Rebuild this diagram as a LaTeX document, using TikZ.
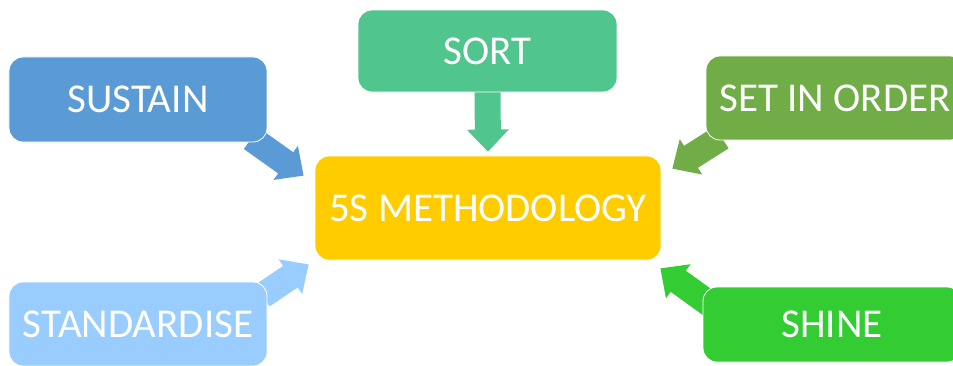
\documentclass[tikz,border=0pt]{standalone}
\usepackage{fontspec}
\setmainfont{Carlito}
\usetikzlibrary{calc,backgrounds}
\definecolor{csustain}{HTML}{5B9BD5}
\definecolor{csort}{HTML}{50C58D}
\definecolor{cmain}{HTML}{FFCC00}
\definecolor{corder}{HTML}{70AD47}
\definecolor{cstd}{HTML}{99CCFF}
\definecolor{cshine}{HTML}{33CC33}
% block arrow: #1 colour, #2 start, #3 tip
\newcommand{\blockarr}[3]{%
  \coordinate (ba-A) at #2;
  \coordinate (ba-B) at #3;
  \coordinate (ba-H) at ($(ba-B)!22bp!(ba-A)$);
  \fill[#1] ($(ba-A)!13bp!90:(ba-B)$) -- ($(ba-H)!13bp!90:(ba-B)$) --
    ($(ba-H)!21bp!90:(ba-B)$) -- (ba-B) -- ($(ba-H)!21bp!-90:(ba-B)$) --
    ($(ba-H)!13bp!-90:(ba-B)$) -- ($(ba-A)!13bp!-90:(ba-B)$) -- cycle;
}
\begin{document}
\begin{tikzpicture}[x=1bp,y=1bp,
  box/.style={rounded corners=14bp, minimum width=258bp, minimum height=84bp,
    inner sep=0pt, text=white, draw=white, line width=0.8bp,
    font=\fontsize{41bp}{49bp}\selectfont}]
  \useasboundingbox (0,0) rectangle (953,365);
  \clip (0,0) rectangle (953,365);
  \node[box, fill=cmain, minimum width=346bp, minimum height=104bp] (main) at (488,157) {5S METHODOLOGY};
  \node[box, fill=csustain, minimum height=85bp] (sustain) at (138,265.5) {SUSTAIN};
  \node[box, fill=csort, minimum width=259bp, minimum height=82bp] (sort) at (487.5,314) {SORT};
  \node[box, fill=corder] (order) at (835,267) {SET IN ORDER};
  \node[box, fill=cstd] (std) at (138,41) {STANDARDISE};
  \node[box, fill=cshine, minimum height=75bp] (shine) at (832,40.5) {SHINE};
  \begin{scope}[on background layer]
    \blockarr{csustain}{($(sustain.south east)+(-16,4)$)}{($(main.north west)+(-11,-20)$)}
    \blockarr{csort}{($(sort.south)+(0,2)$)}{($(main.north)+(0,4)$)}
    \blockarr{corder}{($(order.south west)+(16,3)$)}{($(main.north east)+(11,-13)$)}
    \blockarr{cstd}{($(std.north east)+(-5,-14)$)}{($(main.south west)+(-6,-4)$)}
    \blockarr{cshine}{($(shine.north west)+(8,-18)$)}{($(main.south east)+(-1,-8)$)}
  \end{scope}
\end{tikzpicture}
\end{document}
